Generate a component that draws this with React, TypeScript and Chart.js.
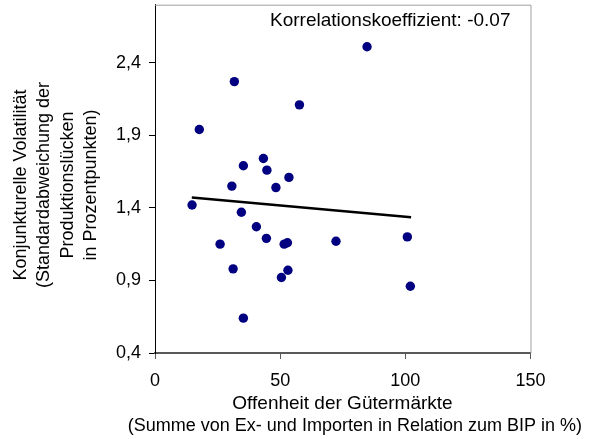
import React, { useEffect, useRef } from "react";
import { Chart, registerables } from "chart.js";

Chart.register(...registerables);

const openness = [31.7, 57.7, 17.7, 43.3, 35.3, 44.7, 53.5, 30.7, 48.3, 14.8, 34.5, 40.5, 44.5, 26.0, 51.6, 52.9, 72.3, 31.2, 53.1, 50.5, 35.3, 84.7, 100.8, 102.0];
const volatility = [2.27, 2.11, 1.94, 1.74, 1.69, 1.66, 1.61, 1.55, 1.54, 1.42, 1.37, 1.27, 1.19, 1.15, 1.15, 1.16, 1.17, 0.98, 0.97, 0.92, 0.64, 2.51, 1.2, 0.86];
const trendX = [14.7, 102.3];
const trendY = [1.472, 1.335];
const yTicks = [0.4, 0.9, 1.4, 1.9, 2.4];
const yTickLabels = ["0,4", "0,9", "1,4", "1,9", "2,4"];
const xTicks = [0, 50, 100, 150];
const xTickLabels = ["0", "50", "100", "150"];
const annotation = "Korrelationskoeffizient: -0.07";
const yTitleLines = ["Konjunkturelle Volatilität", "(Standardabweichung der", "Produktionslücken", "in Prozentpunkten)"];
const xTitleLines = ["Offenheit der Gütermärkte", "(Summe von Ex- und Importen in Relation zum BIP in %)"];

const FONT = "'Liberation Sans', Arial, Helvetica, sans-serif";
const FS = 18;

const textPlugin = {
  id: "texts",
  afterDraw(chart: any) {
    const ctx = chart.ctx;
    const a = chart.chartArea;
    ctx.save();
    ctx.strokeStyle = "#a0a0a0";
    ctx.lineWidth = 1;
    ctx.beginPath();
    ctx.moveTo(a.left, a.top + 0.5);
    ctx.lineTo(a.right + 0.5, a.top + 0.5);
    ctx.lineTo(a.right + 0.5, a.bottom);
    ctx.stroke();

    ctx.fillStyle = "#000";
    ctx.textBaseline = "alphabetic";
    ctx.font = `19px ${FONT}`;
    ctx.textAlign = "left";
    ctx.fillText(annotation, 270, 26);
    ctx.textAlign = "center";
    ctx.fillText(xTitleLines[0], 342.5, 409);
    ctx.font = `18px ${FONT}`;
    ctx.textAlign = "right";
    ctx.fillText(xTitleLines[1], 582, 430.5);
    ctx.textAlign = "center";
    ctx.translate(0, 185);
    ctx.rotate(-Math.PI / 2);
    ctx.textBaseline = "middle";
    const xs = [21, 44.5, 68, 91];
    yTitleLines.forEach((t, i) => {
      ctx.fillText(t, 0, xs[i]);
    });
    ctx.restore();
  },
};

export default function App() {
  const ref = useRef<HTMLCanvasElement | null>(null);
  useEffect(() => {
    if (!ref.current) return;
    const points = openness.map((x, i) => ({ x, y: volatility[i] }));
    const trend = trendX.map((x, i) => ({ x, y: trendY[i] }));
    const chart = new Chart(ref.current, {
      type: "scatter",
      data: {
        datasets: [
          {
            type: "line",
            data: trend,
            borderColor: "#000",
            borderWidth: 2.5,
            pointRadius: 0,
            showLine: true,
            fill: false,
          } as any,
          {
            data: points,
            backgroundColor: "#000080",
            borderColor: "#000080",
            pointRadius: 4.7,
            borderWidth: 0,
          },
        ],
      },
      options: {
        animation: false,
        responsive: true,
        maintainAspectRatio: false,
        layout: { padding: { top: 4, right: 61.5, left: 0, bottom: 0 } },
        plugins: { legend: { display: false }, tooltip: { enabled: false } },
        scales: {
          x: {
            type: "linear",
            min: 0,
            max: 150,
            afterBuildTicks: (s: any) => {
              s.ticks = xTicks.map((v) => ({ value: v }));
            },
            afterFit: (s: any) => {
              s.height = 86;
              s.paddingLeft = 0;
              s.paddingRight = 0;
            },
            border: { display: true, color: "#595959", width: 2 },
            grid: { drawOnChartArea: false, drawTicks: true, tickLength: 6, tickColor: "#595959" },
            ticks: {
              padding: 11,
              color: "#000",
              font: { family: FONT, size: FS },
              callback: (v: any) => xTickLabels[xTicks.indexOf(Number(v))] ?? "",
            },
          },
          y: {
            type: "linear",
            min: 0.4,
            max: 2.8,
            afterBuildTicks: (s: any) => {
              s.ticks = yTicks.map((v) => ({ value: v }));
            },
            afterFit: (s: any) => {
              s.width = 155;
              s.paddingTop = 0;
              s.paddingBottom = 0;
            },
            border: { display: true, color: "#000", width: 1 },
            grid: { drawOnChartArea: false, drawTicks: true, tickLength: 6, tickColor: "#000" },
            ticks: {
              padding: 8,
              color: "#000",
              font: { family: FONT, size: FS },
              callback: (v: any) => yTickLabels[yTicks.findIndex((t) => Math.abs(t - Number(v)) < 1e-6)] ?? "",
            },
          },
        },
      },
      plugins: [textPlugin],
    });
    return () => chart.destroy();
  }, []);
  return (
    <div style={{ position: "fixed", left: 0, top: 0, width: 592, height: 439, background: "#fff" }}>
      <canvas ref={ref} />
    </div>
  );
}
